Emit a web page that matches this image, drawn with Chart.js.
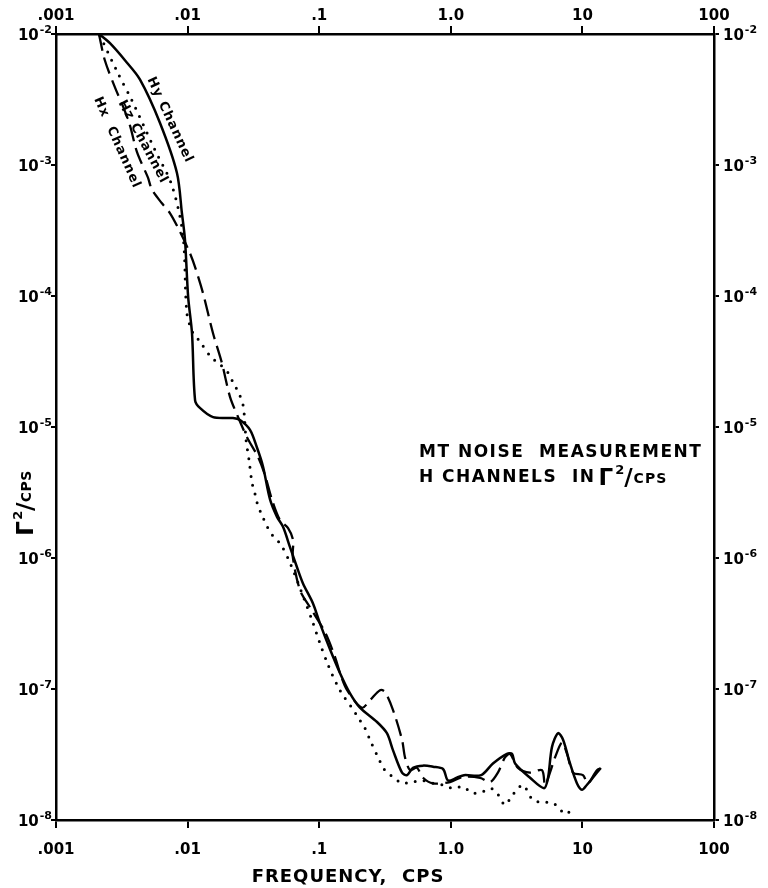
<!DOCTYPE html>
<html>
<head>
<meta charset="utf-8">
<script src="https://cdn.jsdelivr.net/npm/chart.js@4.4.1/dist/chart.umd.min.js"></script>
<style>
    html, body { margin: 0; padding: 0; background: #fff; }
    #wrap { position: relative; width: 768px; height: 888px; }
</style>
</head>
<body>
<div id="wrap"><canvas id="chartRuido"></canvas></div>
<script>
// Hy channel (solid line)
const hyFreq = [0.00212, 0.00257, 0.00334, 0.00434, 0.00616, 0.0083, 0.00905, 0.00955, 0.0101, 0.0108, 0.0114, 0.0124, 0.0156, 0.0221, 0.025, 0.0298, 0.0336, 0.0374, 0.0423, 0.0478, 0.0531, 0.060, 0.0678, 0.0753, 0.0897, 0.101, 0.121, 0.144, 0.171, 0.204, 0.275, 0.327, 0.364, 0.426, 0.465, 0.516, 0.615, 0.733, 0.873, 0.953, 1.11, 1.26, 1.70, 2.09, 2.67, 2.92, 3.08, 4.0, 5.11, 5.48, 5.87, 6.53, 7.13, 8.05, 9.1, 9.93, 10.8, 12.0, 13.8];
const hyPower = [1e-2, 8.5e-3, 6.3e-3, 4.5e-3, 2.1e-3, 8.7e-4, 4.3e-4, 2.7e-4, 9.8e-5, 5.2e-5, 1.6e-5, 1.4e-5, 1.19e-5, 1.17e-5, 1.13e-5, 9.5e-6, 7.0e-6, 5.0e-6, 2.8e-6, 2.06e-6, 1.73e-6, 1.21e-6, 8.5e-7, 6.4e-7, 4.5e-7, 3.2e-7, 2.0e-7, 1.32e-7, 9.3e-8, 7.2e-8, 5.6e-8, 4.6e-8, 3.4e-8, 2.3e-8, 2.2e-8, 2.5e-8, 2.6e-8, 2.55e-8, 2.45e-8, 2.0e-8, 2.1e-8, 2.2e-8, 2.2e-8, 2.7e-8, 3.2e-8, 3.2e-8, 2.7e-8, 2.1e-8, 1.75e-8, 2.1e-8, 3.6e-8, 4.6e-8, 4.1e-8, 2.7e-8, 1.9e-8, 1.7e-8, 1.85e-8, 2.1e-8, 2.5e-8];

// Hx channel (dashed line)
const hxFreq = [0.00212, 0.00235, 0.00281, 0.00323, 0.00365, 0.00412, 0.0050, 0.00535, 0.00638, 0.00734, 0.00875, 0.0104, 0.0114, 0.0131, 0.0156, 0.0182, 0.021, 0.0242, 0.0282, 0.0343, 0.0387, 0.0437, 0.0503, 0.058, 0.0633, 0.063, 0.0714, 0.0851, 0.111, 0.132, 0.144, 0.163, 0.211, 0.243, 0.290, 0.316, 0.364, 0.426, 0.449, 0.490, 0.553, 0.615, 0.733, 0.987, 1.24, 1.67, 1.99, 2.28, 2.58, 2.82, 3.24, 4.0, 4.93, 5.20, 5.67, 6.19, 7.0, 7.64, 8.49, 10.1, 11.0, 12.9, 14.1];
const hxPower = [1e-2, 6.3e-3, 3.9e-3, 2.8e-3, 2.0e-3, 1.26e-3, 8.0e-4, 6.5e-4, 5.1e-4, 4.3e-4, 3.1e-4, 2.13e-4, 1.66e-4, 1.05e-4, 5.2e-5, 3.1e-5, 1.7e-5, 1.19e-5, 8.4e-6, 5.9e-6, 4.3e-6, 2.8e-6, 1.95e-6, 1.69e-6, 1.37e-6, 1.02e-6, 5.7e-7, 4.2e-7, 2.7e-7, 1.75e-7, 1.32e-7, 9.8e-8, 7.2e-8, 8.2e-8, 9.8e-8, 9.5e-8, 6.9e-8, 4.1e-8, 3.0e-8, 2.4e-8, 2.5e-8, 2.1e-8, 1.9e-8, 1.95e-8, 2.13e-8, 2.1e-8, 1.95e-8, 2.3e-8, 3.0e-8, 3.2e-8, 2.5e-8, 2.3e-8, 2.4e-8, 1.85e-8, 2.3e-8, 3.0e-8, 3.9e-8, 3.2e-8, 2.3e-8, 2.2e-8, 1.9e-8, 2.4e-8, 2.5e-8];

// Hz channel (dotted line)
const hzFreq = [0.00216, 0.00296, 0.00378, 0.00565, 0.0076, 0.00923, 0.00988, 0.0110, 0.0122, 0.0151, 0.0170, 0.0203, 0.0221, 0.0246, 0.0264, 0.0270, 0.0278, 0.0293, 0.0308, 0.0325, 0.0341, 0.0367, 0.0401, 0.0446, 0.0513, 0.060, 0.0739, 0.0897, 0.101, 0.117, 0.139, 0.157, 0.177, 0.197, 0.223, 0.243, 0.290, 0.316, 0.364, 0.426, 0.507, 0.604, 0.733, 0.873, 1.02, 1.24, 1.45, 1.73, 1.99, 2.24, 2.58, 2.82, 3.08, 3.54, 4.21, 5.02, 5.98, 6.76, 7.38, 8.49];
const hzPower = [9.7e-3, 5.0e-3, 3.1e-3, 1.3e-3, 7.0e-4, 2.9e-4, 7.4e-5, 5.2e-5, 4.6e-5, 3.4e-5, 3.1e-5, 2.6e-5, 2.2e-5, 1.8e-5, 1.47e-5, 1.21e-5, 8.0e-6, 5.6e-6, 3.8e-6, 3.1e-6, 2.54e-6, 2.13e-6, 1.75e-6, 1.47e-6, 1.26e-6, 9.2e-7, 5.4e-7, 3.2e-7, 2.25e-7, 1.52e-7, 1.04e-7, 8.5e-8, 7.2e-8, 6.1e-8, 5.0e-8, 4.1e-8, 2.8e-8, 2.4e-8, 2.13e-8, 1.91e-8, 1.95e-8, 2.0e-8, 1.91e-8, 1.85e-8, 1.75e-8, 1.79e-8, 1.61e-8, 1.64e-8, 1.75e-8, 1.61e-8, 1.30e-8, 1.45e-8, 1.64e-8, 1.85e-8, 1.42e-8, 1.37e-8, 1.35e-8, 1.21e-8, 1.11e-8, 1.21e-8];

// Axis ticks
const xTickValues = [0.001, 0.01, 0.1, 1, 10, 100];
const xTickLabels = ['.001', '.01', '.1', '1.0', '10', '100'];
const yTickValues = [1e-8, 1e-7, 1e-6, 1e-5, 1e-4, 1e-3, 1e-2];
const yTickExponents = ['-8', '-7', '-6', '-5', '-4', '-3', '-2'];

const FONTE = '"DejaVu Sans", sans-serif';

function pares(fs, ps) {
    return fs.map((f, i) => ({ x: f, y: ps[i] }));
}

// Γ²/CPS drawn piece by piece, starting at (x, baseline y)
function desenhaUnidade(ctx, x, y, s) {
    let cx = x;
    ctx.font = 'bold ' + Math.round(s * 1.35) + 'px ' + FONTE;
    ctx.fillText('Γ', cx, y + s * 0.2);
    cx += ctx.measureText('Γ').width + 1;
    ctx.font = 'bold ' + Math.round(s * 0.75) + 'px ' + FONTE;
    ctx.fillText('2', cx, y - s * 0.5);
    cx += ctx.measureText('2').width - 1;
    ctx.font = 'bold ' + Math.round(s * 1.35) + 'px ' + FONTE;
    ctx.fillText('/', cx, y + s * 0.2);
    cx += ctx.measureText('/').width;
    ctx.font = 'bold ' + Math.round(s * 0.8) + 'px ' + FONTE;
    ctx.fillText('CPS', cx, y + 1);
    cx += ctx.measureText('CPS').width;
    return cx - x;
}

// 10 with raised exponent, aligned against an axis
function desenhaPotencia(ctx, xAnc, py, exp, alinha) {
    ctx.font = 'bold 15px ' + FONTE;
    const wBase = ctx.measureText('10').width;
    ctx.font = 'bold 11px ' + FONTE;
    const wExp = ctx.measureText(exp).width;
    const x0 = alinha === 'right' ? xAnc - wBase - wExp - 1 : xAnc;
    ctx.font = 'bold 15px ' + FONTE;
    ctx.fillText('10', x0, py + 6);
    ctx.font = 'bold 11px ' + FONTE;
    ctx.fillText(exp, x0 + wBase + 1, py - 1);
}

// Texts on the plot: curve labels, note, axis titles
const textosPlugin = {
    id: 'textos',
    afterDraw(chart) {
        const { ctx, scales: { x, y } } = chart;
        const canais = [
            { texto: 'Hy Channel', f: 0.00734, p: 2.2e-3, ang: 65 },
            { texto: 'Hz Channel', f: 0.00458, p: 1.5e-3, ang: 62 },
            { texto: 'Hx  Channel', f: 0.00291, p: 1.48e-3, ang: 66 }
        ];
        ctx.save();
        ctx.fillStyle = '#000';

        ctx.textAlign = 'center';
        ctx.textBaseline = 'middle';
        ctx.font = 'bold 13px ' + FONTE;
        ctx.letterSpacing = '1px';
        canais.forEach(c => {
            ctx.save();
            ctx.translate(x.getPixelForValue(c.f), y.getPixelForValue(c.p));
            ctx.rotate(c.ang * Math.PI / 180);
            ctx.fillText(c.texto, 0, 0);
            ctx.restore();
        });

        // y tick labels on both sides
        ctx.textAlign = 'left';
        ctx.textBaseline = 'alphabetic';
        ctx.letterSpacing = '0px';
        yTickValues.forEach((v, i) => {
            const py = y.getPixelForValue(v);
            desenhaPotencia(ctx, chart.chartArea.left - 4, py, yTickExponents[i], 'right');
            desenhaPotencia(ctx, chart.chartArea.right + 9, py, yTickExponents[i], 'left');
        });

        // note at the right
        const nx = x.getPixelForValue(0.573);
        const ny = y.getPixelForValue(5.9e-6);
        ctx.font = 'bold 17px ' + FONTE;
        ctx.letterSpacing = '1.5px';
        ctx.fillText('MT NOISE  MEASUREMENT', nx, ny);
        ctx.fillText('H CHANNELS  IN', nx, ny + 25);
        const w2 = ctx.measureText('H CHANNELS  IN').width;
        ctx.letterSpacing = '1px';
        desenhaUnidade(ctx, nx + w2 + 3, ny + 25, 17);

        // y title, rotated
        ctx.save();
        ctx.translate(30, y.getPixelForValue(3.2e-6));
        ctx.rotate(-Math.PI / 2);
        ctx.letterSpacing = '0.5px';
        desenhaUnidade(ctx, -44, 0, 17);
        ctx.restore();

        // x title
        ctx.textAlign = 'center';
        ctx.font = 'bold 18px ' + FONTE;
        ctx.letterSpacing = '1px';
        ctx.fillText('FREQUENCY,  CPS', x.getPixelForValue(0.1655), chart.height - 6);
        ctx.restore();
    }
};

function eixoX(pos, altura, pad) {
    return {
        type: 'logarithmic',
        position: pos,
        display: true,
        min: 0.001,
        max: 100,
        afterBuildTicks: s => { s.ticks = xTickValues.map(v => ({ value: v })); },
        afterFit: s => { s.height = altura; },
        ticks: {
            autoSkip: false, maxRotation: 0, minRotation: 0, padding: pad,
            color: '#000', font: { family: FONTE, size: 15, weight: 'bold' },
            callback: (v, i) => xTickLabels[i]
        },
        grid: { drawOnChartArea: false, tickLength: 8, color: '#000', lineWidth: 2 },
        border: { color: '#000', width: 2.5 }
    };
}

function eixoY(pos, largura) {
    return {
        type: 'logarithmic',
        position: pos,
        display: true,
        min: 1e-8,
        max: 1e-2,
        afterBuildTicks: s => { s.ticks = yTickValues.map(v => ({ value: v })); },
        afterFit: s => { s.width = largura; },
        ticks: { display: false },
        grid: { drawOnChartArea: false, tickLength: 5, color: '#000', lineWidth: 2 },
        border: { color: '#000', width: 2.5 }
    };
}

document.addEventListener('DOMContentLoaded', function () {
    const ctxRuido = document.getElementById('chartRuido');
    new Chart(ctxRuido, {
        type: 'scatter',
        data: {
            datasets: [
                {
                    label: 'Hz Channel',
                    data: pares(hzFreq, hzPower),
                    showLine: true,
                    borderColor: '#000',
                    borderWidth: 3,
                    borderDash: [0, 9],
                    borderCapStyle: 'round',
                    pointRadius: 0,
                    tension: 0.3
                },
                {
                    label: 'Hx Channel',
                    data: pares(hxFreq, hxPower),
                    showLine: true,
                    borderColor: '#000',
                    borderWidth: 2.3,
                    borderDash: [17, 7],
                    pointRadius: 0,
                    tension: 0.3
                },
                {
                    label: 'Hy Channel',
                    data: pares(hyFreq, hyPower),
                    showLine: true,
                    borderColor: '#000',
                    borderWidth: 2.5,
                    pointRadius: 0,
                    tension: 0.3
                }
            ]
        },
        options: {
            responsive: true,
            maintainAspectRatio: false,
            animation: false,
            events: [],
            layout: { padding: 0 },
            plugins: {
                legend: { display: false },
                tooltip: { enabled: false }
            },
            scales: {
                x: eixoX('bottom', 68, 13),
                x2: eixoX('top', 34, 1),
                y: eixoY('left', 56),
                y2: eixoY('right', 54)
            }
        },
        plugins: [textosPlugin]
    });
});
</script>
</body>
</html>
